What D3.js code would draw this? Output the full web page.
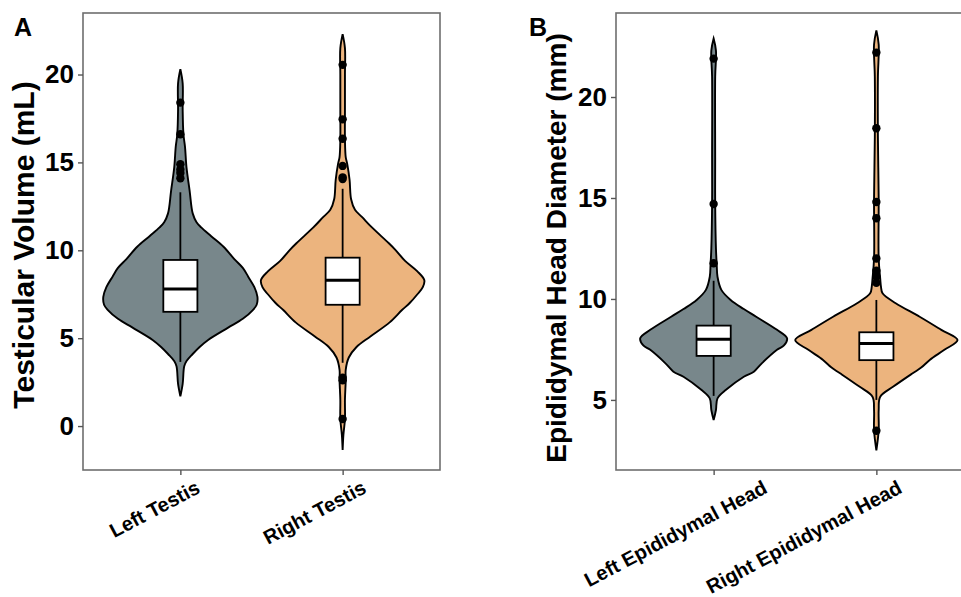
<!DOCTYPE html>
<html>
<head>
<meta charset="utf-8">
<script src="https://cdn.jsdelivr.net/npm/d3@7"></script>
<style>
  body { margin: 0; background: #fff; }
  svg { display: block; font-family: "Liberation Sans", Arial, sans-serif; }
</style>
</head>
<body>
<svg id="chart" width="961" height="597"></svg>
<script>
// categories
const testisGroups = ["Left Testis", "Right Testis"];
const headGroups = ["Left Epididymal Head", "Right Epididymal Head"];
const testisTicks = [0, 5, 10, 15, 20];
const headTicks = [5, 10, 15, 20];

// violin outlines: [value, relative density]
const leftTestisDensity = [
  [20.3, 0], [19.5, 0.03], [18.0, 0.03], [16.6, 0.04], [15.9, 0.06], [14.7, 0.08],
  [13.4, 0.12], [12.1, 0.16], [11.6, 0.21], [11.3, 0.27], [10.8, 0.40], [10.2, 0.56],
  [9.5, 0.70], [9.0, 0.81], [8.5, 0.88], [7.9, 0.96], [7.35, 1.0], [6.9, 0.99],
  [6.6, 0.94], [6.1, 0.81], [5.6, 0.62], [4.9, 0.36], [4.5, 0.25], [4.1, 0.16],
  [3.7, 0.08], [3.4, 0.05], [2.4, 0.03], [1.7, 0]
];
const rightTestisDensity = [
  [22.3, 0], [21.5, 0.03], [20.0, 0.03], [18.0, 0.03], [16.3, 0.03], [15.3, 0.04],
  [14.9, 0.06], [14.0, 0.09], [12.9, 0.11], [12.3, 0.16], [11.9, 0.25], [11.3, 0.38],
  [10.4, 0.60], [10.0, 0.69], [9.4, 0.81], [8.8, 0.97], [8.3, 1.06], [7.9, 1.04],
  [7.5, 0.97], [7.0, 0.87], [6.6, 0.77], [5.9, 0.61], [5.1, 0.36], [4.5, 0.18],
  [3.9, 0.08], [3.2, 0.04], [2.6, 0.04], [1.5, 0.03], [0.4, 0.03], [-0.5, 0.01], [-1.36, 0]
];
const leftHeadDensity = [
  [22.9, 0], [22.3, 0.03], [21.0, 0.02], [17.0, 0.02], [14.7, 0.02], [12.5, 0.03],
  [11.7, 0.04], [11.1, 0.05], [10.45, 0.10], [9.95, 0.22], [9.5, 0.39], [9.12, 0.55],
  [8.47, 0.82], [8.05, 0.95], [7.7, 0.91], [7.48, 0.82], [6.8, 0.62], [6.4, 0.52],
  [6.15, 0.39], [5.5, 0.16], [5.08, 0.05], [4.5, 0.03], [4.0, 0]
];
const rightHeadDensity = [
  [23.3, 0], [22.6, 0.03], [21.0, 0.02], [18.0, 0.02], [15.0, 0.03], [12.0, 0.03],
  [11.0, 0.05], [10.6, 0.06], [10.28, 0.08], [9.79, 0.25], [9.12, 0.56], [8.47, 0.84],
  [7.97, 1.05], [7.48, 0.88], [6.98, 0.69], [6.6, 0.58], [6.32, 0.47], [5.66, 0.22],
  [5.16, 0.05], [4.5, 0.03], [3.5, 0.03], [2.5, 0]
];

// box stats: [lower whisker, q1, median, q3, upper whisker]
const leftTestisBox = [3.65, 6.5, 7.8, 9.45, 13.3];
const rightTestisBox = [3.6, 6.9, 8.3, 9.58, 13.5];
const leftHeadBox = [5.2, 7.18, 8.0, 8.68, 10.9];
const rightHeadBox = [5.0, 6.97, 7.8, 8.35, 9.95];

// outliers
const leftTestisOutliers = [18.4, 16.6, 14.9, 14.6, 14.4, 14.1];
const rightTestisOutliers = [20.55, 17.45, 16.35, 14.8, 14.05, 14.15, 2.75, 2.6, 0.4];
const leftHeadOutliers = [21.9, 14.7, 11.77];
const rightHeadOutliers = [22.2, 18.45, 14.8, 14.0, 12.0, 11.4, 11.1, 10.8, 3.47];

const fills = ["#78878b", "#ecb47e"];

const svg = d3.select("#chart");

const drawPanel = (cfg) => {
  const g = svg.append("g");

  const x = d3.scalePoint()
    .domain(cfg.groups)
    .range([cfg.left, cfg.right])
    .padding(0.6);

  const y = d3.scaleLinear()
    .domain(cfg.yDomain)
    .range([cfg.bottom, cfg.top]);

  const step = x.step();

  // violins
  cfg.densities.forEach((dens, i) => {
    const cx = x(cfg.groups[i]);
    const area = d3.area()
      .curve(d3.curveCatmullRom)
      .y(d => y(d[0]))
      .x0(d => cx - d[1] * 0.475 * step)
      .x1(d => cx + d[1] * 0.475 * step);
    g.append("path")
      .datum(dens)
      .attr("d", area)
      .attr("fill", fills[i])
      .attr("stroke", "#000")
      .attr("stroke-width", 1.9);
  });

  // boxplots
  cfg.boxes.forEach((b, i) => {
    const cx = x(cfg.groups[i]);
    const bw = 0.21 * step;
    g.append("line")
      .attr("x1", cx).attr("x2", cx)
      .attr("y1", y(b[0])).attr("y2", y(b[4]))
      .attr("stroke", "#000")
      .attr("stroke-width", 1.8);
    g.append("rect")
      .attr("x", cx - bw / 2)
      .attr("width", bw)
      .attr("y", y(b[3]))
      .attr("height", y(b[1]) - y(b[3]))
      .attr("fill", "#fff")
      .attr("stroke", "#000")
      .attr("stroke-width", 1.8);
    g.append("line")
      .attr("x1", cx - bw / 2).attr("x2", cx + bw / 2)
      .attr("y1", y(b[2])).attr("y2", y(b[2]))
      .attr("stroke", "#000")
      .attr("stroke-width", 3);
    g.selectAll(null)
      .data(cfg.outliers[i])
      .enter()
      .append("circle")
      .attr("cx", cx)
      .attr("cy", d => y(d))
      .attr("r", 4.2)
      .attr("fill", "#000");
  });

  // panel border
  g.append("rect")
    .attr("x", cfg.left).attr("y", cfg.top)
    .attr("width", cfg.right - cfg.left)
    .attr("height", cfg.bottom - cfg.top)
    .attr("fill", "none")
    .attr("stroke", "#6e6e6e")
    .attr("stroke-width", 1.6);

  // y axis
  const yAxis = g.append("g")
    .attr("transform", `translate(${cfg.left},0)`)
    .call(d3.axisLeft(y).tickValues(cfg.ticks).tickSize(5).tickPadding(4));
  yAxis.select(".domain").remove();
  yAxis.selectAll(".tick line").attr("stroke", "#555").attr("stroke-width", 1.4);
  yAxis.selectAll(".tick text")
    .attr("fill", "#000")
    .attr("font-size", "26px")
    .attr("font-weight", 700)
    .attr("font-family", "Liberation Sans, Arial, sans-serif");

  // x axis
  const xAxis = g.append("g")
    .attr("transform", `translate(0,${cfg.bottom})`)
    .call(d3.axisBottom(x).tickSize(5).tickFormat(""));
  xAxis.select(".domain").remove();
  xAxis.selectAll(".tick line").attr("stroke", "#555").attr("stroke-width", 1.4);

  cfg.groups.forEach((name, i) => {
    const px = x(name) + cfg.labelShift[i];
    const py = cfg.bottom + 22;
    g.append("text")
      .text(name)
      .attr("transform", `translate(${px},${py}) rotate(-28)`)
      .attr("text-anchor", "end")
      .attr("font-size", "20px")
      .attr("font-weight", 700)
      .attr("fill", "#000");
  });

  // y title
  g.append("text")
    .text(cfg.yTitle)
    .attr("transform", `translate(${cfg.titleX},${cfg.titleY}) rotate(-90)`)
    .attr("text-anchor", "middle")
    .attr("font-size", cfg.titleSize)
    .attr("font-weight", 700)
    .attr("fill", "#000");

  // panel tag
  g.append("text")
    .text(cfg.tag)
    .attr("x", cfg.tagX)
    .attr("y", 36)
    .attr("font-size", "25px")
    .attr("font-weight", 700)
    .attr("fill", "#000");
};

drawPanel({
  tag: "A", tagX: 14,
  groups: testisGroups,
  ticks: testisTicks,
  yDomain: [-2.5, 23.5],
  left: 83, right: 440, top: 13, bottom: 470,
  densities: [leftTestisDensity, rightTestisDensity],
  boxes: [leftTestisBox, rightTestisBox],
  outliers: [leftTestisOutliers, rightTestisOutliers],
  labelShift: [21, 25],
  yTitle: "Testicular Volume (mL)",
  titleSize: "30px",
  titleX: 34, titleY: 245
});

drawPanel({
  tag: "B", tagX: 529,
  groups: headGroups,
  ticks: headTicks,
  yDomain: [1.53, 24.16],
  left: 616, right: 974, top: 13, bottom: 470,
  densities: [leftHeadDensity, rightHeadDensity],
  boxes: [leftHeadBox, rightHeadBox],
  outliers: [leftHeadOutliers, rightHeadOutliers],
  labelShift: [55, 27],
  yTitle: "Epididymal Head Diameter (mm)",
  titleSize: "28px",
  titleX: 566, titleY: 248
});
</script>
</body>
</html>
